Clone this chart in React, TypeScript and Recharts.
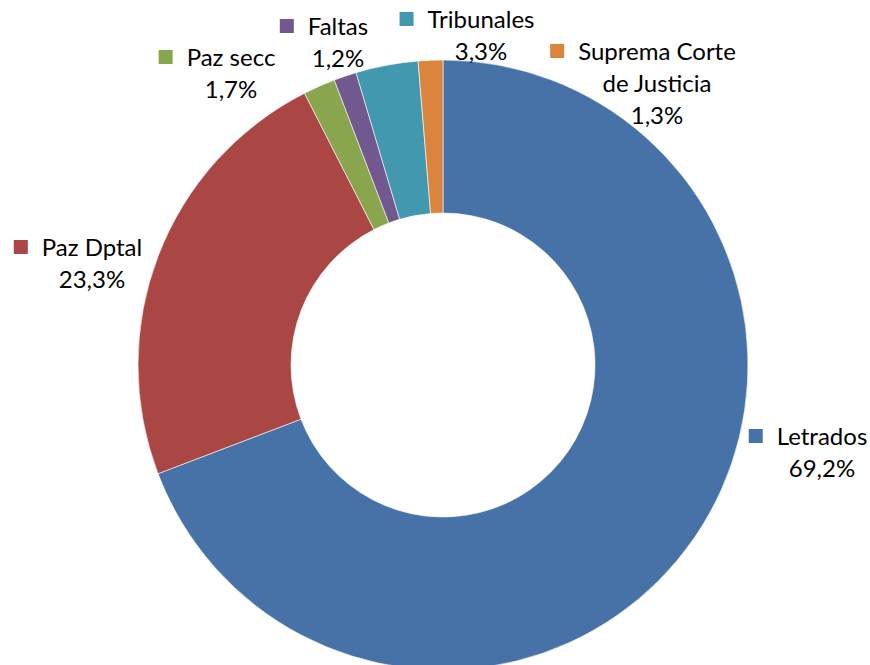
import React from 'react';
import { PieChart, Pie, Cell } from 'recharts';

const categories = ['Letrados', 'Paz Dptal', 'Paz secc', 'Faltas', 'Tribunales', 'Suprema Corte de Justicia'];
const shares = [69.2, 23.3, 1.7, 1.2, 3.3, 1.3];
const colors = ['#4672A7', '#AA4643', '#89A54E', '#71588F', '#4198AF', '#DB843D'];

// label placement relative to the pie centre: text-centre x, first baseline y
const labelOffsets = [
  { dx: 379, dy: 80 },
  { dx: -351, dy: -109 },
  { dx: -212, dy: -299 },
  { dx: -105, dy: -330 },
  { dx: 38, dy: -337 },
  { dx: 214, dy: -305 },
];

const W = 870;
const H = 665;
const CX = 443;
const CY = 365;
const FONT_SIZE = 24;
const FONT_FAMILY = 'Lato';
const LINE_H = 32;

const data = categories.map((name, i) => ({ name, value: shares[i] }));

let ctx: CanvasRenderingContext2D | null = null;
function measure(text: string): number {
  if (!ctx) {
    const c = document.createElement('canvas');
    ctx = c.getContext('2d');
  }
  if (!ctx) return text.length * FONT_SIZE * 0.5;
  ctx.font = `${FONT_SIZE}px ${FONT_FAMILY}`;
  return ctx.measureText(text).width;
}

function wrap(name: string, maxChars = 14): string[] {
  const words = name.split(' ');
  const lines: string[] = [];
  let cur = '';
  for (const w of words) {
    const next = cur ? cur + ' ' + w : w;
    if (next.length > maxChars && cur) {
      lines.push(cur);
      cur = w;
    } else cur = next;
  }
  if (cur) lines.push(cur);
  return lines;
}

const renderLabel = (props: any) => {
  const { index, value } = props;
  const off = labelOffsets[index];
  const x = CX + off.dx;
  const y0 = CY + off.dy;
  const lines = [...wrap(categories[index]), value.toFixed(1).replace('.', ',') + '%'];
  const firstW = measure(lines[0]);
  const mSize = 14;
  const mx = x - firstW / 2 - 14 - mSize;
  return (
    <g key={`lbl-${index}`}>
      <rect x={mx} y={y0 - 16} width={mSize} height={mSize} fill={colors[index]} />
      {lines.map((t, j) => (
        <text
          key={j}
          x={x}
          y={y0 + j * LINE_H}
          textAnchor="middle"
          fill="#000"
          fontSize={FONT_SIZE}
          fontFamily={FONT_FAMILY}
        >
          {t}
        </text>
      ))}
    </g>
  );
};

export default function App() {
  return (
    <div style={{ position: 'absolute', left: 0, top: 0, width: W, height: H, background: '#fff' }}>
      <PieChart width={W} height={H} margin={{ top: 0, right: 0, bottom: 0, left: 0 }}>
        <Pie
          data={data}
          dataKey="value"
          nameKey="name"
          cx={CX}
          cy={CY}
          innerRadius={152}
          outerRadius={305}
          startAngle={90}
          endAngle={-270}
          stroke="#ffffff"
          strokeWidth={0.6}
          label={renderLabel}
          labelLine={false}
          isAnimationActive={false}
        >
          {data.map((d, i) => (
            <Cell key={d.name} fill={colors[i]} />
          ))}
        </Pie>
      </PieChart>
    </div>
  );
}
